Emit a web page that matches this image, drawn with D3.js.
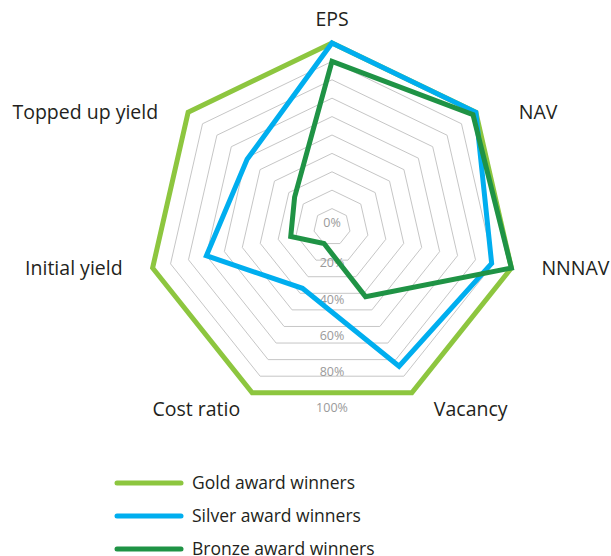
<!DOCTYPE html>
<html>
<head>
<meta charset="utf-8">
<script src="https://cdn.jsdelivr.net/npm/d3@7"></script>
<style>
    body { margin: 0; background: #fff; }
    svg { display: block; font-family: "Open Sans", "Noto Sans", sans-serif; }
</style>
</head>
<body>
<svg id="chart" width="611" height="556"></svg>
<script>
'use strict';

// axes, clockwise from the top
const categories = ['EPS', 'NAV', 'NNNAV', 'Vacancy', 'Cost ratio', 'Initial yield', 'Topped up yield'];

const seriesNames = ['Gold award winners', 'Silver award winners', 'Bronze award winners'];
const goldValues = [100, 100, 100, 100, 100, 100, 100];
const silverValues = [100, 100, 89, 84, 37, 70, 59];
const bronzeValues = [90, 98, 100, 42, 10, 23, 26];

const gridLevels = [10, 20, 30, 40, 50, 60, 70, 80, 90, 100];
const tickLabels = [0, 20, 40, 60, 80, 100];

const colors = ['#8dc63f', '#00aeef', '#1f9345'];

const cx = 332, cy = 227, radius = 184;
const step = 2 * Math.PI / categories.length;

const svg = d3.select('#chart');

const r = d3.scaleLinear()
    .domain([0, 100])
    .range([0, radius]);

const radialLine = d3.lineRadial()
    .angle((d, i) => i * step)
    .radius(d => r(d))
    .curve(d3.curveLinearClosed);

const plot = svg.append('g')
    .attr('transform', `translate(${cx}, ${cy})`);

// grid rings
plot.selectAll('.ring')
    .data(gridLevels)
    .enter()
    .append('path')
    .attr('class', 'ring')
    .attr('d', lvl => radialLine(categories.map(() => lvl)))
    .attr('fill', 'none')
    .attr('stroke', '#c6c6c6')
    .attr('stroke-width', 1);

// percentage labels, straight down
plot.selectAll('.tick')
    .data(tickLabels)
    .enter()
    .append('text')
    .attr('class', 'tick')
    .attr('x', 0)
    .attr('y', d => r(d) * 0.98 - (d === 0 ? 4 : 0))
    .attr('dy', '0.35em')
    .attr('text-anchor', 'middle')
    .attr('font-size', 12.5)
    .attr('fill', '#9a9a9a')
    .text(d => d + '%');

// series
const series = [goldValues, silverValues, bronzeValues];

plot.selectAll('.series')
    .data(series)
    .enter()
    .append('path')
    .attr('class', 'series')
    .attr('d', d => radialLine(d))
    .attr('fill', 'none')
    .attr('stroke', (d, i) => colors[i])
    .attr('stroke-width', 5)
    .attr('stroke-linejoin', 'miter');

// axis labels
const labelPos = (name, i) => {
    const a = i * step;
    const x = Math.sin(a) * radius;
    const y = -Math.cos(a) * radius;
    if (Math.abs(Math.sin(a)) < 0.01) {
        return { x: x, y: y - 24, anchor: 'middle' };
    }
    const side = Math.sign(x);
    if (Math.cos(a) < -0.5) {
        const g = side > 0 ? 22 : 12;
        return { x: x + side * g, y: y + 16, anchor: side > 0 ? 'start' : 'end' };
    }
    const gap = (side > 0 && Math.cos(a) > 0) ? 43 : 30;
    return { x: x + side * gap, y: y, anchor: side > 0 ? 'start' : 'end' };
};

plot.selectAll('.axis-label')
    .data(categories)
    .enter()
    .append('text')
    .attr('class', 'axis-label')
    .each(function(d, i) {
        const p = labelPos(d, i);
        d3.select(this)
            .attr('x', p.x)
            .attr('y', p.y)
            .attr('text-anchor', p.anchor);
    })
    .attr('dy', '0.35em')
    .attr('font-size', 19.5)
    .attr('fill', '#231f20')
    .text(d => d);

// legend
const legend = svg.append('g')
    .attr('transform', 'translate(117, 483)');

const items = legend.selectAll('.item')
    .data(seriesNames)
    .enter()
    .append('g')
    .attr('class', 'item')
    .attr('transform', (d, i) => `translate(0, ${i * 33})`);

items.append('line')
    .attr('x1', 0)
    .attr('x2', 64)
    .attr('stroke', (d, i) => colors[i])
    .attr('stroke-width', 5)
    .attr('stroke-linecap', 'round');

items.append('text')
    .attr('x', 75)
    .attr('dy', '0.35em')
    .attr('font-size', 17.5)
    .attr('fill', '#231f20')
    .text(d => d);
</script>
</body>
</html>
